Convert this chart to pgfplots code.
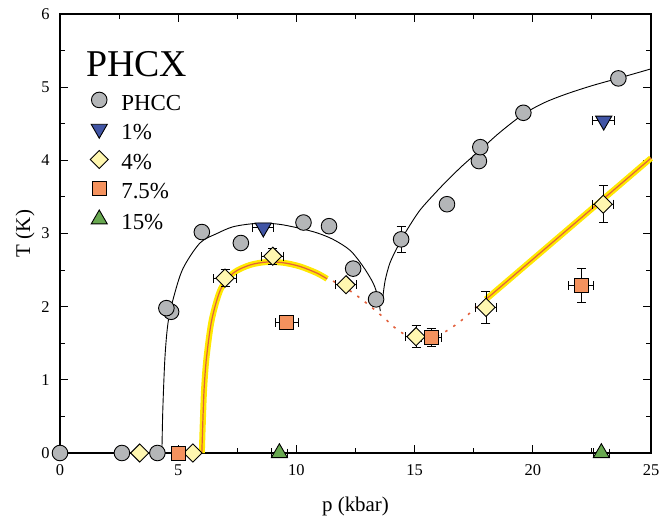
\documentclass[border=0pt]{standalone}
\usepackage{fontspec}
\setmainfont{Liberation Serif}
\usepackage{pgfplots}
\usepackage{pgfplotstable}
\pgfplotsset{compat=1.18}
\definecolor{gcirc}{RGB}{180,182,184}
\definecolor{bltri}{RGB}{65,85,165}
\definecolor{ydiam}{RGB}{255,247,176}
\definecolor{osq}{RGB}{244,146,94}
\definecolor{gtri}{RGB}{104,168,80}
\definecolor{glow}{RGB}{255,232,0}
\definecolor{redl}{RGB}{226,96,60}

\pgfplotstableread{
p T ex ey
0 0 0 0
2.62 0 0 0
4.12 0 0 0
4.7 1.93 0 0
4.5 1.98 0 0
6.0 3.02 0 0
7.65 2.87 0 0
10.3 3.15 0 0
11.38 3.10 0 0
12.4 2.52 0 0
13.37 2.10 0 0
14.43 2.92 0 0.18
16.37 3.40 0 0
17.72 3.99 0 0
17.78 4.18 0 0
19.6 4.65 0 0
23.62 5.12 0 0
}\phcc

\pgfplotstableread{
p T ex ey
8.6 3.08 0.45 0
23.0 4.54 0.47 0
}\one

\pgfplotstableread{
p T ex ey
3.37 0 0 0
5.62 0 0 0
6.98 2.39 0.49 0.12
9.0 2.69 0.46 0.11
12.1 2.30 0.46 0
15.06 1.59 0.45 0.15
18.02 1.99 0.46 0.22
22.98 3.40 0.45 0.25
}\four

\pgfplotstableread{
p T ex ey
5.02 0 0.3 0
9.6 1.79 0.5 0.05
15.7 1.58 0.42 0.12
22.05 2.29 0.53 0.23
}\seven

\pgfplotstableread{
p T ex ey
9.28 0 0.33 0
22.9 0 0.33 0
}\fifteen

\pgfplotstableread{
p T
6.0 0
6.05 0.5
6.1 0.9
6.2 1.31
6.42 1.82
6.8 2.24
7.33 2.46
8.04 2.57
8.75 2.61
9.45 2.60
10.15 2.55
10.86 2.46
11.3 2.38
}\domeY

\pgfplotstableread{
p T
18.02 2.10
25 4.03
}\lineY

\begin{document}
\begin{tikzpicture}
\begin{axis}[
 name=ax,
 scale only axis, width=591bp, height=439bp,
 xmin=0, xmax=25, ymin=0, ymax=6,
 xtick={0,5,...,25}, ytick={0,1,...,6},
 minor xtick={2.5,7.5,...,22.5}, minor ytick={0.5,1.5,...,5.5},
 tick align=inside, major tick length=8bp, minor tick length=5bp,
 axis line style={line width=1.3bp},
 every tick/.style={black, line width=1bp},
 xlabel={p (kbar)}, ylabel={T (K)},
 xlabel style={at={(axis description cs:0.5,-0.121)}, anchor=center},
 ylabel style={at={(axis description cs:-0.0592,0.5)}, anchor=center},
 label style={font=\fontsize{21}{24}\selectfont},
 ticklabel style={font=\fontsize{16.5}{19}\selectfont},
 xticklabel style={yshift=-8bp},
 yticklabel style={xshift=-7bp},
 /pgf/number format/assume math mode=true,
 clip=false,
 legend style={at={(axis description cs:0.0457,0.827)}, anchor=north west,
   draw=none, fill=none, font=\fontsize{23}{26}\selectfont,
   row sep=0bp, column sep=12bp,
   nodes={inner sep=1bp, text height=17bp, text depth=10bp}},
 legend cell align=left,
 legend image code/.code={\draw[#1] plot coordinates {(0bp,7bp)};},
 ebar/.style={
  error bars/.cd, x dir=both, x explicit, y dir=both, y explicit,
  error mark=|,
  error bar style={draw=black, line width=0.9bp},
  error mark options={draw=black, line width=0.9bp, mark size=4.5bp}},
]
% legend images
\addlegendimage{only marks, mark=*, mark size=7.8bp, mark options={fill=gcirc, draw=black, line width=0.9bp}}
\addlegendimage{only marks, mark=triangle*, mark size=9.3bp, mark options={rotate=180, fill=bltri, draw=black, line width=0.9bp}}
\addlegendimage{only marks, mark=square*, mark size=6.4bp, mark options={rotate=45, fill=ydiam, draw=black, line width=0.9bp}}
\addlegendimage{only marks, mark=square*, mark size=7bp, mark options={fill=osq, draw=black, line width=0.9bp}}
\addlegendimage{only marks, mark=triangle*, mark size=9.3bp, mark options={fill=gtri, draw=black, line width=0.9bp}}
\legend{PHCC, 1\%, 4\%, 7.5\%, 15\%}

% black curves
\addplot[forget plot, smooth, black, line width=0.9bp] coordinates {
 (4.31,0) (4.35,0.6) (4.44,1.31) (4.57,1.78) (4.8,2.12) (5.2,2.52) (5.92,2.87)
 (6.64,3.0) (7.3,3.09) (8.04,3.13) (8.76,3.14) (9.4,3.12) (10.15,3.07)
 (10.86,3.01) (11.55,2.92) (12.27,2.77) (12.82,2.55) (13.25,2.32) (13.45,2.13) (13.55,1.94)};
\addplot[forget plot, smooth, black, line width=0.9bp] coordinates {
 (13.64,2.08) (13.75,2.35) (13.96,2.6) (14.3,2.83) (14.68,3.05) (15.23,3.32)
 (15.95,3.58) (16.37,3.72) (17.0,3.92) (17.77,4.14) (18.6,4.38) (19.6,4.63)
 (20.5,4.79) (21.45,4.91) (22.5,5.02) (23.6,5.12) (25,5.25)};

% red dotted
\addplot[forget plot, smooth, redl, line width=1.6bp, dash pattern=on 2.5bp off 7bp] coordinates {
 (11.55,2.35) (12.3,2.21) (12.8,2.09) (13.3,1.96) (13.8,1.82) (14.25,1.69)
 (14.7,1.6) (15.2,1.55) (15.7,1.56) (16.2,1.64) (16.6,1.72) (17.05,1.83)
 (17.5,1.96) (18.02,2.1)};

% highlighted 4% curves
\addplot[forget plot, smooth, glow, line width=6bp] table[x=p,y=T] {\domeY};
\addplot[forget plot, smooth, redl, line width=1.2bp] table[x=p,y=T] {\domeY};
\addplot[forget plot, glow, line width=6bp] table[x=p,y=T] {\lineY};
\addplot[forget plot, redl, line width=1.2bp] table[x=p,y=T] {\lineY};

% markers with error bars
\addplot[forget plot, only marks, mark=*, mark size=7.8bp, mark options={fill=gcirc, draw=black, line width=0.9bp}, ebar] table[x=p,y=T,x error=ex,y error=ey] {\phcc};
\addplot[forget plot, only marks, mark=triangle*, mark size=9.3bp, mark options={rotate=180, fill=bltri, draw=black, line width=0.9bp}, ebar] table[x=p,y=T,x error=ex,y error=ey] {\one};
\addplot[forget plot, only marks, mark=square*, mark size=6.4bp, mark options={rotate=45, fill=ydiam, draw=black, line width=0.9bp}, ebar] table[x=p,y=T,x error=ex,y error=ey] {\four};
\addplot[forget plot, only marks, mark=square*, mark size=7bp, mark options={fill=osq, draw=black, line width=0.9bp}, ebar] table[x=p,y=T,x error=ex,y error=ey] {\seven};
\addplot[forget plot, only marks, mark=triangle*, mark size=9.3bp, mark options={fill=gtri, draw=black, line width=0.9bp}, ebar] table[x=p,y=T,x error=ex,y error=ey] {\fifteen};

\node[anchor=base west, inner sep=0pt, font=\fontsize{38}{40}\selectfont] at (axis description cs:0.044,0.8565) {PHCX};
\end{axis}
\pgfresetboundingbox
\path[use as bounding box] ([shift={(-60bp,-66bp)}]ax.south west) rectangle ([shift={(9bp,14bp)}]ax.north east);
\end{tikzpicture}
\end{document}
